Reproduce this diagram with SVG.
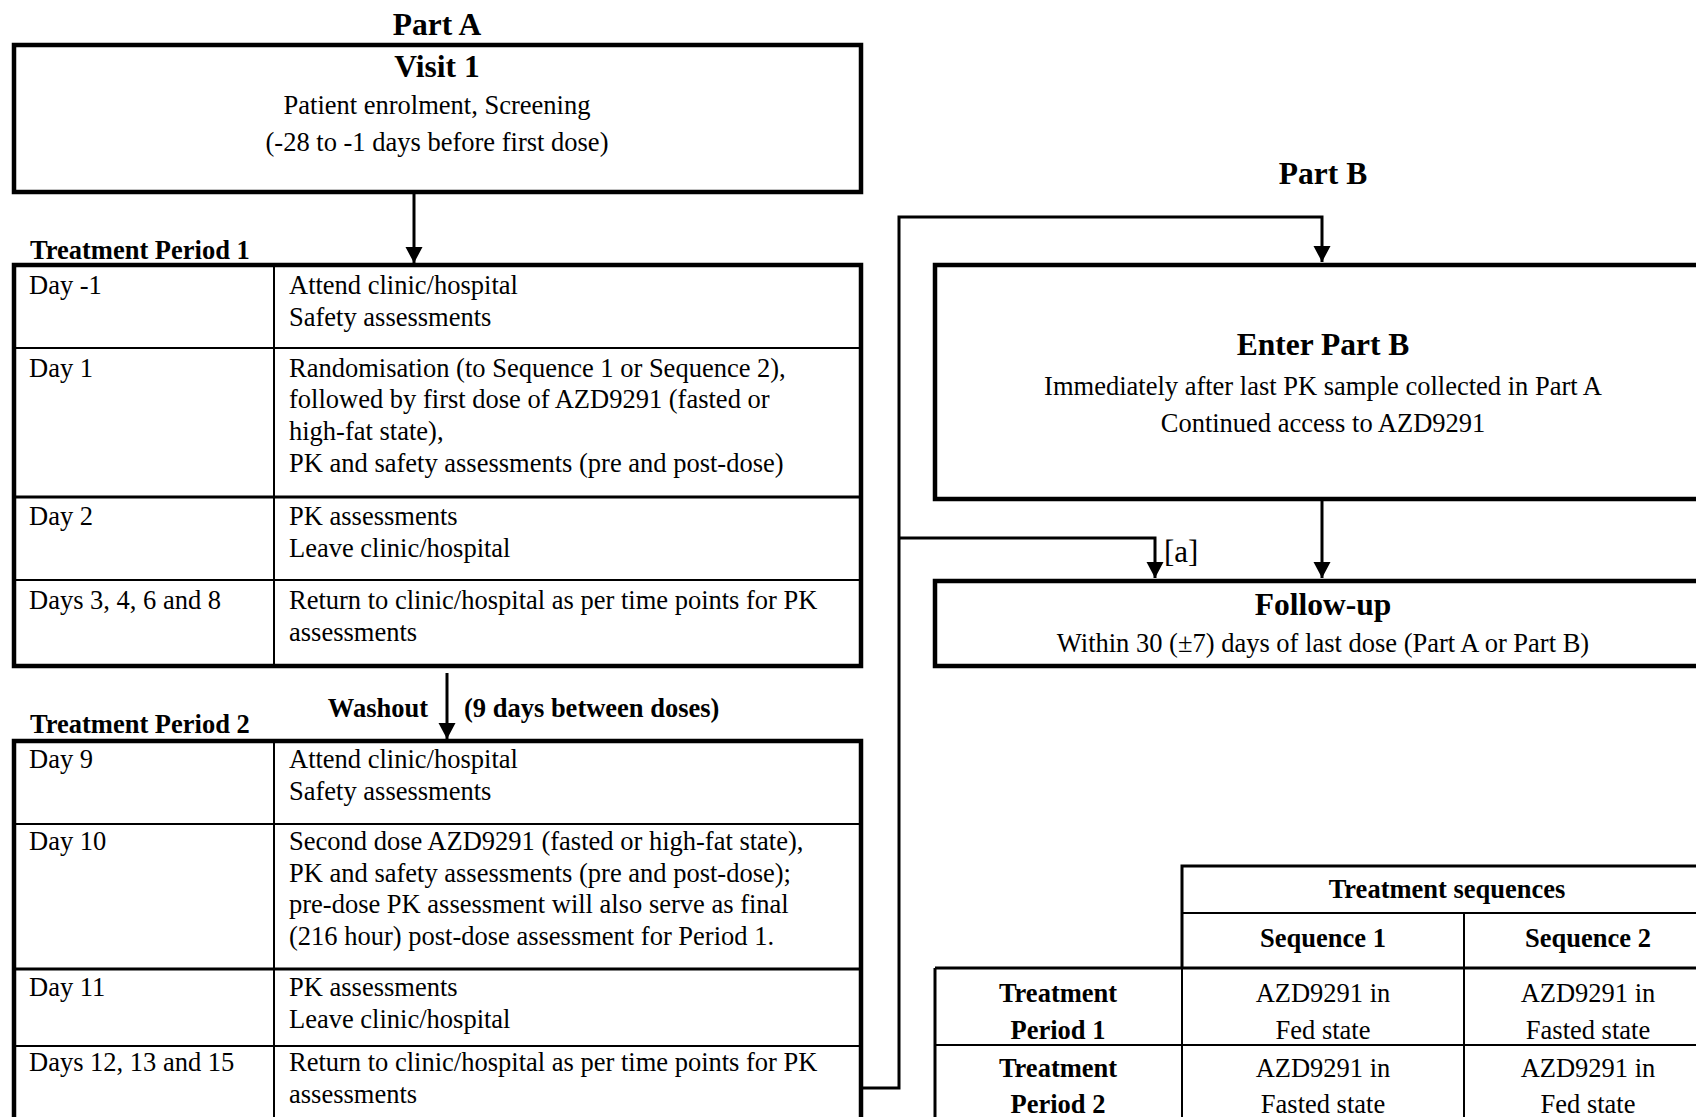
<svg xmlns="http://www.w3.org/2000/svg" width="1696" height="1117" viewBox="0 0 1696 1117">
<style>
text{font-family:"Liberation Serif","Times New Roman",serif;fill:#000;font-size:26.5px}
.b{font-weight:bold}
.h{font-weight:bold;font-size:31.5px}
.c{text-anchor:middle}
.box{fill:#fff;stroke:#000;stroke-width:4.5}
.thin{stroke:#000;stroke-width:2;fill:none}
.mid{stroke:#000;stroke-width:3;fill:none}
.conn{stroke:#000;stroke-width:3;fill:none}
</style>
<defs>
<marker id="ah" markerUnits="userSpaceOnUse" markerWidth="18" markerHeight="18" refX="16" refY="8.5" orient="auto">
<path d="M0,0 L16,8.5 L0,17 z" fill="#000"/>
</marker>
</defs>
<rect width="1696" height="1117" fill="#fff"/>

<g id="connectors">
<line class="conn" x1="414" y1="194" x2="414" y2="263" marker-end="url(#ah)"/>
<line class="conn" x1="447" y1="673" x2="447" y2="739" marker-end="url(#ah)"/>
<polyline class="conn" points="862,1088 899,1088 899,217 1322,217 1322,262" marker-end="url(#ah)"/>
<polyline class="conn" points="899,538 1155,538 1155,578" marker-end="url(#ah)"/>
<line class="conn" x1="1322" y1="500" x2="1322" y2="578" marker-end="url(#ah)"/>
</g>

<g id="partA-title"><text class="h c" x="437" y="35">Part A</text></g>

<g id="visit1">
<rect class="box" x="14" y="45" width="847" height="147"/>
<text class="h c" x="437" y="77">Visit 1</text>
<text class="c" x="437" y="114">Patient enrolment, Screening</text>
<text class="c" x="437" y="151">(-28 to -1 days before first dose)</text>
</g>

<g id="period1">
<text class="b" x="30" y="259">Treatment Period 1</text>
<rect class="box" x="14" y="265" width="847" height="401"/>
<line class="thin" x1="274" y1="265" x2="274" y2="666"/>
<line class="thin" x1="14" y1="348" x2="860" y2="348"/>
<line class="mid" x1="14" y1="497" x2="860" y2="497"/>
<line class="thin" x1="14" y1="580" x2="860" y2="580"/>
<text x="29" y="294">Day -1</text>
<text x="289" y="294">Attend clinic/hospital</text>
<text x="289" y="326">Safety assessments</text>
<text x="29" y="377">Day 1</text>
<text x="289" y="377">Randomisation (to Sequence 1 or Sequence 2),</text>
<text x="289" y="408">followed by first dose of AZD9291 (fasted or</text>
<text x="289" y="440">high-fat state),</text>
<text x="289" y="472">PK and safety assessments (pre and post-dose)</text>
<text x="29" y="525">Day 2</text>
<text x="289" y="525">PK assessments</text>
<text x="289" y="557">Leave clinic/hospital</text>
<text x="29" y="609">Days 3, 4, 6 and 8</text>
<text x="289" y="609">Return to clinic/hospital as per time points for PK</text>
<text x="289" y="641">assessments</text>
</g>

<g id="washout">
<text class="b" x="428" y="717" text-anchor="end">Washout</text>
<text class="b" x="464" y="717">(9 days between doses)</text>
</g>

<g id="period2">
<text class="b" x="30" y="733">Treatment Period 2</text>
<rect class="box" x="14" y="741" width="847" height="400"/>
<line class="thin" x1="274" y1="741" x2="274" y2="1117"/>
<line class="thin" x1="14" y1="824" x2="860" y2="824"/>
<line class="mid" x1="14" y1="969" x2="860" y2="969"/>
<line class="thin" x1="14" y1="1046" x2="860" y2="1046"/>
<text x="29" y="768">Day 9</text>
<text x="289" y="768">Attend clinic/hospital</text>
<text x="289" y="800">Safety assessments</text>
<text x="29" y="850">Day 10</text>
<text x="289" y="850">Second dose AZD9291 (fasted or high-fat state),</text>
<text x="289" y="882">PK and safety assessments (pre and post-dose);</text>
<text x="289" y="913">pre-dose PK assessment will also serve as final</text>
<text x="289" y="945">(216 hour) post-dose assessment for Period 1.</text>
<text x="29" y="996">Day 11</text>
<text x="289" y="996">PK assessments</text>
<text x="289" y="1028">Leave clinic/hospital</text>
<text x="29" y="1071">Days 12, 13 and 15</text>
<text x="289" y="1071">Return to clinic/hospital as per time points for PK</text>
<text x="289" y="1103">assessments</text>
</g>

<g id="partB-title"><text class="h c" x="1323" y="184">Part B</text></g>

<g id="enterPartB">
<rect class="box" x="935" y="265" width="780" height="234"/>
<text class="h c" x="1323" y="355">Enter Part B</text>
<text class="c" x="1323" y="395">Immediately after last PK sample collected in Part A</text>
<text class="c" x="1323" y="432">Continued access to AZD9291</text>
</g>

<g id="label-a"><text x="1164" y="562" style="font-size:31px">[a]</text></g>

<g id="followup">
<rect class="box" x="935" y="581" width="780" height="85"/>
<text class="h c" x="1323" y="615">Follow-up</text>
<text class="c" x="1323" y="652">Within 30 (±7) days of last dose (Part A or Part B)</text>
</g>

<g id="sequences">
<polyline class="mid" points="1182,968 1182,866 1715,866"/>
<line class="thin" x1="1182" y1="913" x2="1715" y2="913"/>
<line class="mid" x1="935" y1="968" x2="1715" y2="968"/>
<line class="mid" x1="935" y1="968" x2="935" y2="1117"/>
<line class="thin" x1="1182" y1="968" x2="1182" y2="1117"/>
<line class="thin" x1="1464" y1="913" x2="1464" y2="1117"/>
<line class="thin" x1="935" y1="1045" x2="1715" y2="1045"/>
<text class="b c" x="1447" y="898">Treatment sequences</text>
<text class="b c" x="1323" y="947">Sequence 1</text>
<text class="b c" x="1588" y="947">Sequence 2</text>
<text class="b c" x="1058" y="1002">Treatment</text>
<text class="b c" x="1058" y="1039">Period 1</text>
<text class="c" x="1323" y="1002">AZD9291 in</text>
<text class="c" x="1323" y="1039">Fed state</text>
<text class="c" x="1588" y="1002">AZD9291 in</text>
<text class="c" x="1588" y="1039">Fasted state</text>
<text class="b c" x="1058" y="1077">Treatment</text>
<text class="b c" x="1058" y="1113">Period 2</text>
<text class="c" x="1323" y="1077">AZD9291 in</text>
<text class="c" x="1323" y="1113">Fasted state</text>
<text class="c" x="1588" y="1077">AZD9291 in</text>
<text class="c" x="1588" y="1113">Fed state</text>
</g>
</svg>
